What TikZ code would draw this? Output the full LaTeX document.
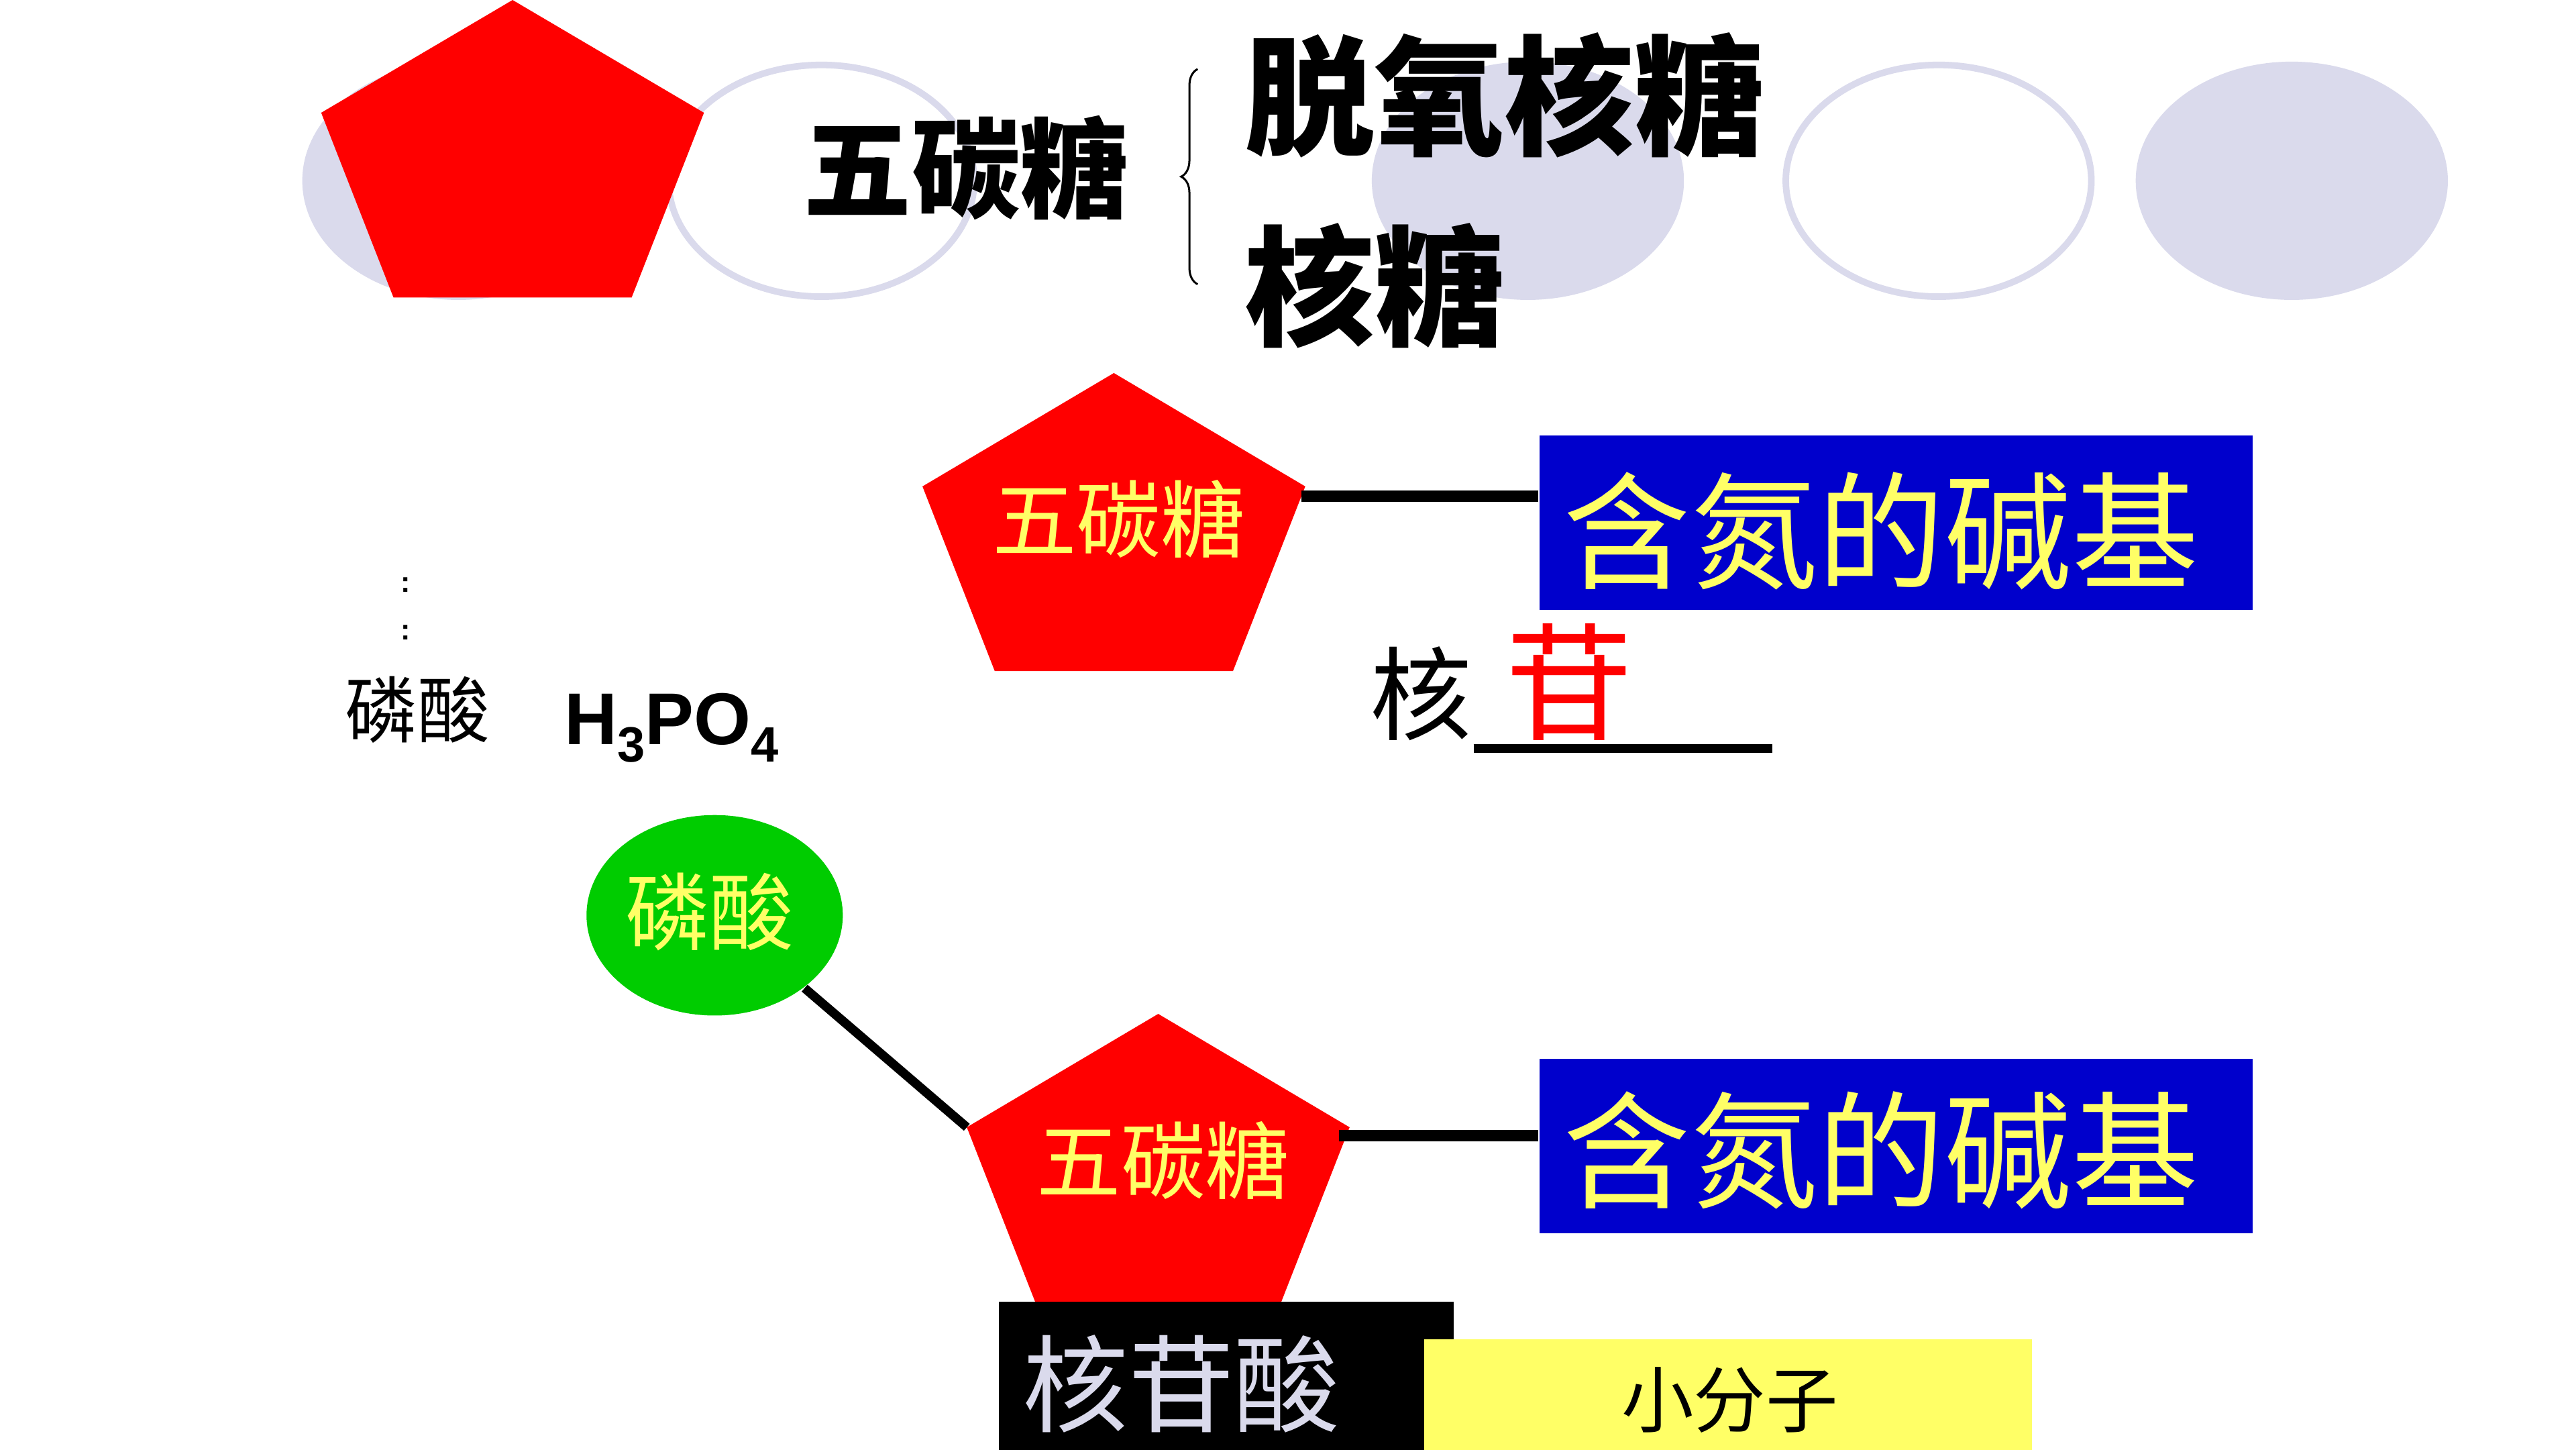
\documentclass[tikz,border=0pt]{standalone}
\usepackage{fontspec}
\setmainfont{Liberation Sans}
\newfontfamily\cjk{Noto Sans CJK SC}
\usetikzlibrary{positioning,shapes.geometric,decorations.pathreplacing}
\definecolor{lavender}{RGB}{218,218,236}
\definecolor{sugarred}{RGB}{255,0,0}
\definecolor{baseblue}{RGB}{0,0,204}
\definecolor{paleyellow}{RGB}{255,255,102}
\definecolor{acidgreen}{RGB}{0,204,0}

\begin{document}
\begin{tikzpicture}[x=0.1mm,y=-0.1mm]
    \tikzset{bgoval/.style={ellipse, minimum width=19mm, minimum height=14.5mm,
      inner sep=0pt, fill=lavender},
      ringoval/.style={ellipse, minimum width=18.6mm, minimum height=14.1mm,
      inner sep=0pt, draw=lavender, line width=0.4mm, fill=white},
      basebox/.style={rectangle, minimum width=43.4mm, minimum height=10.6mm,
      inner sep=0pt, fill=baseblue},
      basetext/.style={inner sep=0pt, text=paleyellow, font=\cjk\fontsize{22pt}{24pt}\selectfont},
      sugartext/.style={inner sep=0pt, text=paleyellow, font=\cjk\fontsize{14.6pt}{16pt}\selectfont},
      bond/.style={line width=0.7mm}}

    \fill[white] (0,0) rectangle (1568,882);
    \useasboundingbox (0,0) rectangle (1568,882);

    % Row 1: ovals behind
    \node[bgoval] (oval1) at (279,110) {};
    \node[ringoval] (oval2) at (500,110) {};
    \node[bgoval] (oval3) at (930,110) {};
    \node[ringoval] (oval4) at (1180,110) {};
    \node[bgoval] (oval5) at (1395,110) {};

    % Row 1: pentose and its two kinds
    \fill[sugarred] (312,0) coordinate (s1top) -- ++(116.5,68.6) -- ++(-44,112.4)
      -- ++(-145,0) -- ++(-44,-112.4) -- cycle;
    \node[inner sep=0pt, font=\cjk\bfseries\fontsize{18.8pt}{20pt}\selectfont] (sugar) at (588,102) {五碳糖};
    \draw[decorate, decoration={brace, amplitude=1mm}, line width=0.35pt] (729,173) -- (729,42);
    \node[inner sep=0pt, anchor=west, font=\cjk\bfseries\fontsize{22.5pt}{24pt}\selectfont] (deoxy) at (757,58) {脱氧核糖};
    \node[inner sep=0pt, anchor=west, font=\cjk\bfseries\fontsize{22.5pt}{24pt}\selectfont] (ribose) at (757,174) {核糖};

    % Row 2: nucleoside
    \fill[sugarred] (678,227) coordinate (s2top) -- ++(116.5,69) coordinate (s2right) -- ++(-44,112.4)
      -- ++(-145,0) -- ++(-44,-112.4) coordinate (s2left) -- cycle;
    \node[sugartext] (sugar2) at (681,316) {五碳糖};
    \node[basebox] (base1) at (1154,318) {};
    \node[basetext] (base1txt) at (1145,323) {含氮的碱基};
    \coordinate (b1start) at (792,302);
    \draw[bond] (b1start) -- (base1.west |- b1start);
    \node[inner sep=0pt, font=\cjk\fontsize{17.6pt}{19pt}\selectfont] (nuc) at (865,422) {核};
    \node[inner sep=0pt, text=sugarred, font=\cjk\fontsize{22pt}{24pt}\selectfont] (side) at (955,415) {苷};
    \draw[line width=0.5mm] (897,455.5) -- (1079,455.5);

    % Phosphoric acid
    \node[inner sep=0pt, font=\bfseries\fontsize{5pt}{5pt}\selectfont] (dot1) at (247,356) {:};
    \node[inner sep=0pt, font=\bfseries\fontsize{5pt}{5pt}\selectfont] (dot2) at (247,385) {:};
    \node[inner sep=0pt, font=\cjk\fontsize{12.5pt}{14pt}\selectfont] (acid) at (254,432) {磷酸};
    \node[inner sep=0pt, anchor=base west, font=\bfseries\fontsize{12.7pt}{14pt}\selectfont] (formula) at (343,453)
      {H\raisebox{-3pt}{\fontsize{8.6pt}{9pt}\selectfont 3}PO\raisebox{-3pt}{\fontsize{8.6pt}{9pt}\selectfont 4}};

    % Row 3: nucleotide
    \node[ellipse, fill=acidgreen, minimum width=15.6mm, minimum height=12.2mm, inner sep=0pt] (phos) at (435,557) {};
    \node[sugartext] (phostxt) at (432,555) {磷酸};
    \fill[sugarred] (705,617) coordinate (s3top) -- ++(116.5,69) coordinate (s3right) -- ++(-44,112.4)
      -- ++(-145,0) -- ++(-44,-112.4) coordinate (s3left) -- cycle;
    \node[sugartext] (sugar3) at (708,706) {五碳糖};
    \draw[line width=0.55mm] (phos.-39) -- (s3left);
    \node[basebox] (base2) at (1154,697.5) {};
    \node[basetext] (base2txt) at (1145,700) {含氮的碱基};
    \coordinate (b2start) at (815,691);
    \draw[bond] (b2start) -- (base2.west |- b2start);

    \node[fill=black, minimum width=27.7mm, minimum height=9.2mm, inner sep=0pt] (nucleotide) at (746.5,838) {};
    \node[inner sep=0pt, text=lavender, font=\cjk\fontsize{18.3pt}{20pt}\selectfont] (nucleotidetxt) at (719,842) {核苷酸};
    \node[fill=paleyellow, minimum width=37mm, minimum height=6.9mm, inner sep=0pt] (small) at (1052,849.5) {};
    \node[inner sep=0pt, font=\cjk\fontsize{12.5pt}{14pt}\selectfont] (smalltxt) at (1053,852) {小分子};
  \end{tikzpicture}
\end{document}
